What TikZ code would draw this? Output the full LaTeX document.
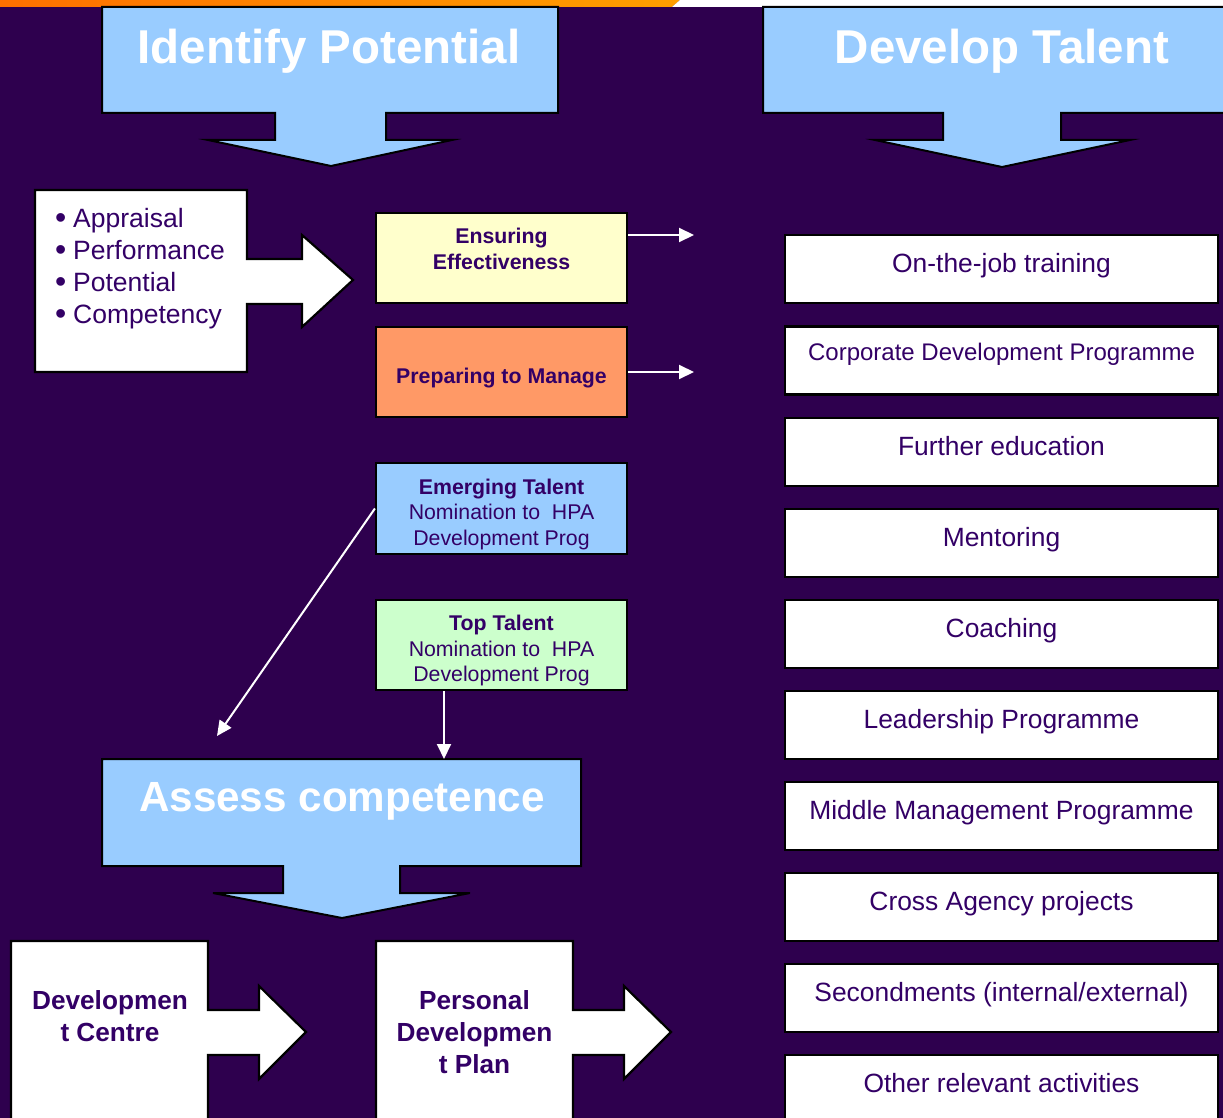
\documentclass[tikz,border=0pt]{standalone}
\usepackage{fontspec}
\setmainfont{Liberation Sans}
\usetikzlibrary{arrows.meta}

\definecolor{bgpurple}{RGB}{46,0,78}
\definecolor{txtpurple}{RGB}{51,0,102}
\definecolor{skyblue}{RGB}{153,204,255}
\definecolor{paleyellow}{RGB}{255,255,204}
\definecolor{salmon}{RGB}{255,153,102}
\definecolor{palegreen}{RGB}{204,255,204}
\definecolor{barorange}{RGB}{255,112,0}
\definecolor{barlight}{RGB}{255,158,0}

\newcommand{\bigbullet}{\makebox[18pt][l]{\raisebox{-1.5pt}{\fontsize{32}{32}\selectfont\textbullet}}}

\tikzset{
    callout/.style={fill=skyblue, draw=black, line width=2pt, line join=miter},
    titletext/.style={text=white, inner sep=0pt, anchor=base,
        font=\fontsize{47.5}{56}\selectfont\bfseries},
    boxarrow/.style={fill=white, draw=black, line width=2.2pt, line join=miter},
    stagebox/.style={draw=black, line width=2.2pt, minimum width=251pt,
        minimum height=90pt, inner sep=0pt, align=center, text=txtpurple,
        font=\fontsize{21.3}{25.5}\selectfont},
    optbox/.style={draw=black, fill=white, line width=2.2pt, minimum width=433pt,
        minimum height=68pt, inner sep=0pt, text=txtpurple,
        text height=19pt, text depth=13pt, font=\fontsize{26.4}{32}\selectfont},
    flow/.style={white, line width=2pt, -{Triangle[length=15pt,width=14pt]}}
}

\begin{document}
\begin{tikzpicture}[x=1pt,y=-1pt]
        \fill[bgpurple] (0,0) rectangle (1223,1118);
        \useasboundingbox (0,0) rectangle (1223,1118);
        \shade[left color=barorange, right color=barlight] (0,0) -- (680,0) -- (672,7) -- (0,7) -- cycle;
        \fill[white] (680,0) -- (1223,0) -- (1223,7) -- (672,7) -- cycle;

        % the three big callouts
        \draw[callout] (102,7) -- (558,7) -- (558,113) -- (386,113) -- (386,140) -- (452,140)
            -- (331,166) -- (208,140) -- (275,140) -- (275,113) -- (102,113) -- cycle;
        \draw[callout] (763,7) -- (1228,7) -- (1228,113) -- (1061,113) -- (1061,140) -- (1130,140)
            -- (1002,167) -- (875,140) -- (943,140) -- (943,113) -- (763,113) -- cycle;
        \draw[callout] (102,759) -- (581,759) -- (581,866) -- (400,866) -- (400,893) -- (470,893)
            -- (342,918) -- (213,893) -- (283,893) -- (283,866) -- (102,866) -- cycle;
        \node[titletext] (idtitle) at (329,64) {Identify Potential};
        \node[titletext] (devtitle) at (1002,64) {Develop Talent};
        \node[titletext, font=\fontsize{42.2}{50}\selectfont\bfseries] (asstitle) at (342,811) {Assess competence};

        % boxes with block arrows
        \draw[boxarrow] (35,190) -- (247,190) -- (247,259) -- (302,259) -- (302,235) -- (353,280)
            -- (302,327) -- (302,304) -- (247,304) -- (247,372) -- (35,372) -- cycle;
        \draw[boxarrow] (11,941) -- (208,941) -- (208,1010) -- (259,1010) -- (259,986) -- (306,1032)
            -- (259,1079) -- (259,1055) -- (208,1055) -- (208,1128) -- (11,1128) -- cycle;
        \draw[boxarrow] (376,941) -- (573,941) -- (573,1010) -- (624,1010) -- (624,986) -- (671,1032)
            -- (624,1079) -- (624,1055) -- (573,1055) -- (573,1128) -- (376,1128) -- cycle;
        \node[anchor=north west, inner sep=0pt, align=left, text=txtpurple,
            font=\fontsize{26.5}{32}\selectfont] (criteria) at (55,208)
            {\bigbullet Appraisal\\\bigbullet Performance\\\bigbullet Potential\\\bigbullet Competency};
        \node[anchor=north, inner sep=0pt, align=center, text=txtpurple,
            font=\fontsize{26.2}{32}\selectfont\bfseries] (devcentre) at (110,990) {Developmen\\t Centre};
        \node[anchor=north, inner sep=0pt, align=center, text=txtpurple,
            font=\fontsize{26.2}{32}\selectfont\bfseries] (pdp) at (474.5,990) {Personal\\Developmen\\t Plan};

        % middle column
        \node[stagebox, fill=paleyellow, text depth=18pt] (ensure) at (501.5,258) {\textbf{Ensuring}\\\textbf{Effectiveness}};
        \node[stagebox, fill=salmon, text height=27.5pt] (prepare) at (501.5,372) {\textbf{Preparing to Manage}};
        \node[stagebox, fill=skyblue, minimum height=91pt, text height=77.5pt] (emerging) at (501.5,508.5)
            {\textbf{Emerging Talent}\\Nomination to\ \ HPA\\Development Prog};
        \node[stagebox, fill=palegreen, text height=77.5pt] (toptal) at (501.5,645)
            {\textbf{Top Talent}\\Nomination to\ \ HPA\\Development Prog};

        % development options
        \node[optbox] (opt1) at (1001.5,269) {On-the-job training};
        \node[optbox, text height=17pt, text depth=17pt, font=\fontsize{24}{28}\selectfont] (opt2) at (1001.5,360.5) {Corporate Development Programme};
        \node[optbox] (opt3) at (1001.5,452) {Further education};
        \node[optbox] (opt4) at (1001.5,543) {Mentoring};
        \node[optbox] (opt5) at (1001.5,634) {Coaching};
        \node[optbox] (opt6) at (1001.5,725) {Leadership Programme};
        \node[optbox] (opt7) at (1001.5,816) {Middle Management Programme};
        \node[optbox] (opt8) at (1001.5,907) {Cross Agency projects};
        \node[optbox] (opt9) at (1001.5,998) {Secondments (internal/external)};
        \node[optbox] (opt10) at (1001.5,1089) {Other relevant activities};

        % connectors
        \coordinate (ensend) at (694,235);
        \coordinate (prepend) at (694,372);
        \coordinate (emgend) at (217,736);
        \coordinate (topend) at (444,759);
        \draw[flow] (ensure.east |- ensend) -- (ensend);
        \draw[flow] (prepare.east) -- (prepend);
        \draw[flow] (emerging.west) -- (emgend);
        \draw[flow] (toptal.south -| topend) -- (topend);

    \end{tikzpicture}
\end{document}
